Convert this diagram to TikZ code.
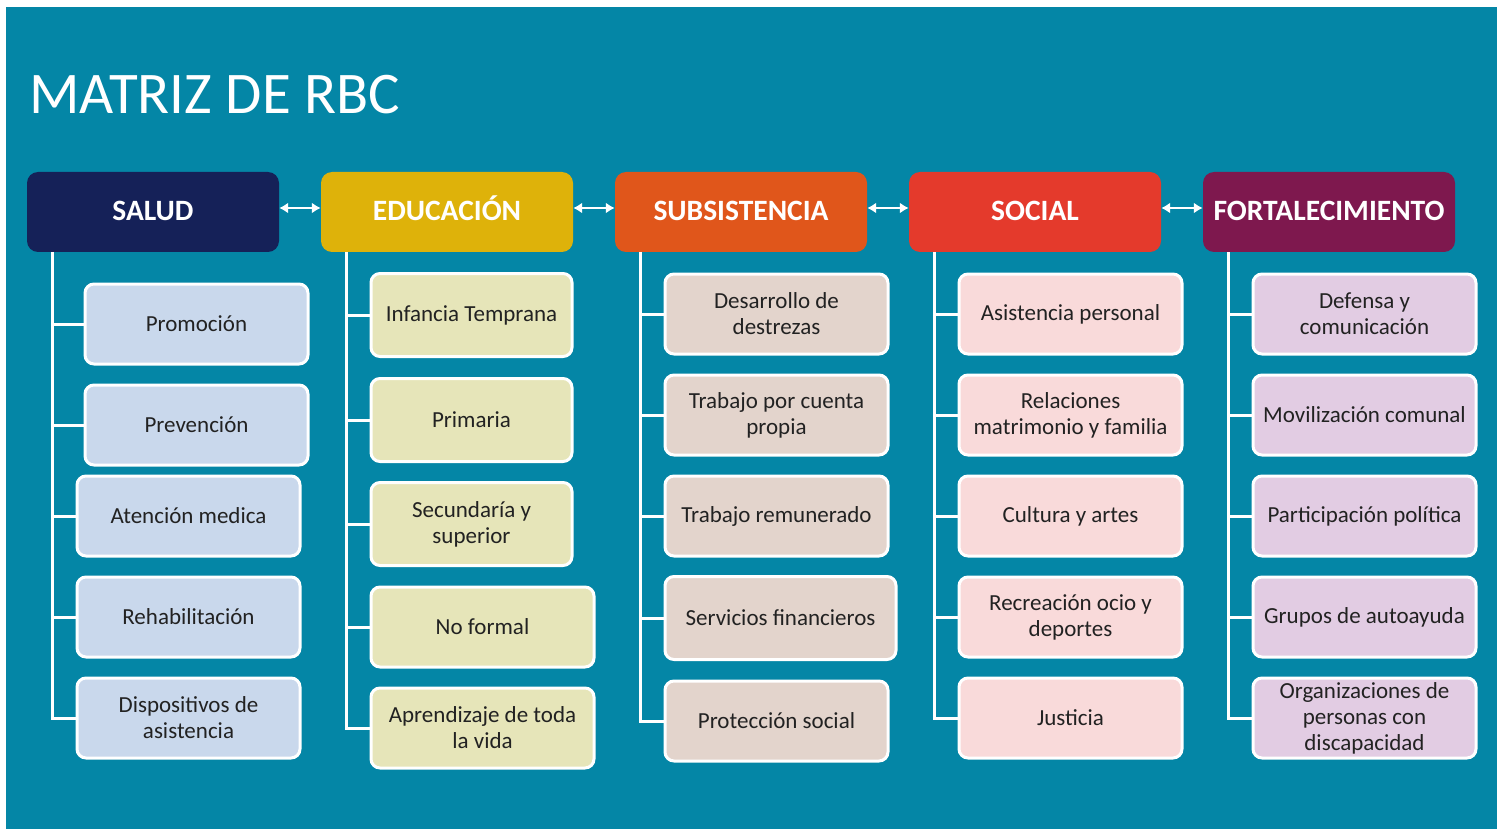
\documentclass[tikz,border=0pt]{standalone}
\usepackage{fontspec}
\setmainfont{Carlito}
\usetikzlibrary{arrows.meta}
\definecolor{fondo}{RGB}{4,134,166}
\definecolor{cSalud}{RGB}{21,33,88}
\definecolor{cEduc}{RGB}{222,178,10}
\definecolor{cSubs}{RGB}{224,86,27}
\definecolor{cSocial}{RGB}{228,58,44}
\definecolor{cFort}{RGB}{126,24,78}
\definecolor{lSalud}{RGB}{201,216,236}
\definecolor{lEduc}{RGB}{230,229,185}
\definecolor{lSubs}{RGB}{227,212,204}
\definecolor{lSocial}{RGB}{249,218,218}
\definecolor{lFort}{RGB}{226,204,227}
\definecolor{texto}{RGB}{34,34,34}
\tikzset{
  head/.style={rounded corners=11pt, minimum width=252pt, minimum height=80pt,
    inner sep=0pt, text height=19pt, text depth=1pt, text=white,
    font=\fontsize{29.5}{34}\selectfont\bfseries},
  item/.style={draw=white, line width=3pt, rounded corners=9pt, minimum width=223pt,
    minimum height=80pt, inner sep=0pt, align=center, text=texto,
    font=\fontsize{23}{26}\selectfont},
  tree/.style={white, line width=3pt},
  link/.style={white, line width=2.5pt, {Latex[length=9pt,width=11pt]}-{Latex[length=9pt,width=11pt]}}
}
\begin{document}
\begin{tikzpicture}[x=1pt,y=-1pt]
 \fill[white](0,0) rectangle (1502,829);
 \fill[fondo](6,7) rectangle (1497,829);
 \node[anchor=base west, inner sep=0pt, text=white, font=\fontsize{59}{64}\selectfont] (title) at (29,114) {MATRIZ DE RBC};

 % encabezados
 \node[head, fill=cSalud] (salud) at (153,212) {SALUD};
 \node[head, fill=cEduc] (educ) at (447,212) {EDUCACIÓN};
 \node[head, fill=cSubs] (subs) at (741,212) {SUBSISTENCIA};
 \node[head, fill=cSocial] (social) at (1035,212) {SOCIAL};
 \node[head, fill=cFort] (fort) at (1329,212) {FORTALECIMIENTO};
 \draw[link]([yshift=4pt]salud.east)--([yshift=4pt]educ.west);
 \draw[link]([yshift=4pt]educ.east)--([yshift=4pt]subs.west);
 \draw[link]([yshift=4pt]subs.east)--([yshift=4pt]social.west);
 \draw[link]([yshift=4pt]social.east)--([yshift=4pt]fort.west);

 % salud
 \node[item, fill=lSalud] (sa1) at (196.5,324) {Promoción};
 \node[item, fill=lSalud] (sa2) at (196.5,425) {Prevención};
 \node[item, fill=lSalud] (sa3) at (188.5,516) {Atención medica};
 \node[item, fill=lSalud] (sa4) at (188.5,617) {Rehabilitación};
 \node[item, fill=lSalud] (sa5) at (188.5,718) {Dispositivos de\\asistencia};
 \draw[tree](salud.south -| 52,0) |- (sa5.west);
 \draw[tree](52,0 |- sa1.west)--(sa1.west);
 \draw[tree](52,0 |- sa2.west)--(sa2.west);
 \draw[tree](52,0 |- sa3.west)--(sa3.west);
 \draw[tree](52,0 |- sa4.west)--(sa4.west);

 % educacion
 \node[item, fill=lEduc, minimum width=201pt, minimum height=83pt] (ed1) at (471.5,315) {Infancia Temprana};
 \node[item, fill=lEduc, minimum width=201pt, minimum height=83pt] (ed2) at (471.5,420) {Primaria};
 \node[item, fill=lEduc, minimum width=201pt, minimum height=83pt] (ed3) at (471.5,524) {Secundaría y\\superior};
 \node[item, fill=lEduc] (ed4) at (482.5,627) {No formal};
 \node[item, fill=lEduc] (ed5) at (482.5,728) {Aprendizaje de toda\\la vida};
 \draw[tree](educ.south -| 346,0) |- (ed5.west);
 \draw[tree](346,0 |- ed1.west)--(ed1.west);
 \draw[tree](346,0 |- ed2.west)--(ed2.west);
 \draw[tree](346,0 |- ed3.west)--(ed3.west);
 \draw[tree](346,0 |- ed4.west)--(ed4.west);

 % subsistencia
 \node[item, fill=lSubs] (su1) at (776.5,314) {Desarrollo de\\destrezas};
 \node[item, fill=lSubs] (su2) at (776.5,415) {Trabajo por cuenta\\propia};
 \node[item, fill=lSubs] (su3) at (776.5,516) {Trabajo remunerado};
 \node[item, fill=lSubs, minimum width=231pt, minimum height=83pt] (su4) at (780.5,618) {Servicios financieros};
 \node[item, fill=lSubs] (su5) at (776.5,721) {Protección social};
 \draw[tree](subs.south -| 640,0) |- (su5.west);
 \draw[tree](640,0 |- su1.west)--(su1.west);
 \draw[tree](640,0 |- su2.west)--(su2.west);
 \draw[tree](640,0 |- su3.west)--(su3.west);
 \draw[tree](640,0 |- su4.west)--(su4.west);

 % social
 \node[item, fill=lSocial] (so1) at (1070.5,314) {Asistencia personal};
 \node[item, fill=lSocial] (so2) at (1070.5,415) {Relaciones\\matrimonio y familia};
 \node[item, fill=lSocial] (so3) at (1070.5,516) {Cultura y artes};
 \node[item, fill=lSocial] (so4) at (1070.5,617) {Recreación ocio y\\deportes};
 \node[item, fill=lSocial] (so5) at (1070.5,718) {Justicia};
 \draw[tree](social.south -| 934,0) |- (so5.west);
 \draw[tree](934,0 |- so1.west)--(so1.west);
 \draw[tree](934,0 |- so2.west)--(so2.west);
 \draw[tree](934,0 |- so3.west)--(so3.west);
 \draw[tree](934,0 |- so4.west)--(so4.west);

 % fortalecimiento
 \node[item, fill=lFort] (fo1) at (1364.5,314) {Defensa y\\comunicación};
 \node[item, fill=lFort] (fo2) at (1364.5,415) {Movilización comunal};
 \node[item, fill=lFort] (fo3) at (1364.5,516) {Participación política};
 \node[item, fill=lFort] (fo4) at (1364.5,617) {Grupos de autoayuda};
 \node[item, fill=lFort] (fo5) at (1364.5,718) {Organizaciones de\\personas con\\discapacidad};
 \draw[tree](fort.south -| 1228,0) |- (fo5.west);
 \draw[tree](1228,0 |- fo1.west)--(fo1.west);
 \draw[tree](1228,0 |- fo2.west)--(fo2.west);
 \draw[tree](1228,0 |- fo3.west)--(fo3.west);
 \draw[tree](1228,0 |- fo4.west)--(fo4.west);
\end{tikzpicture}
\end{document}
